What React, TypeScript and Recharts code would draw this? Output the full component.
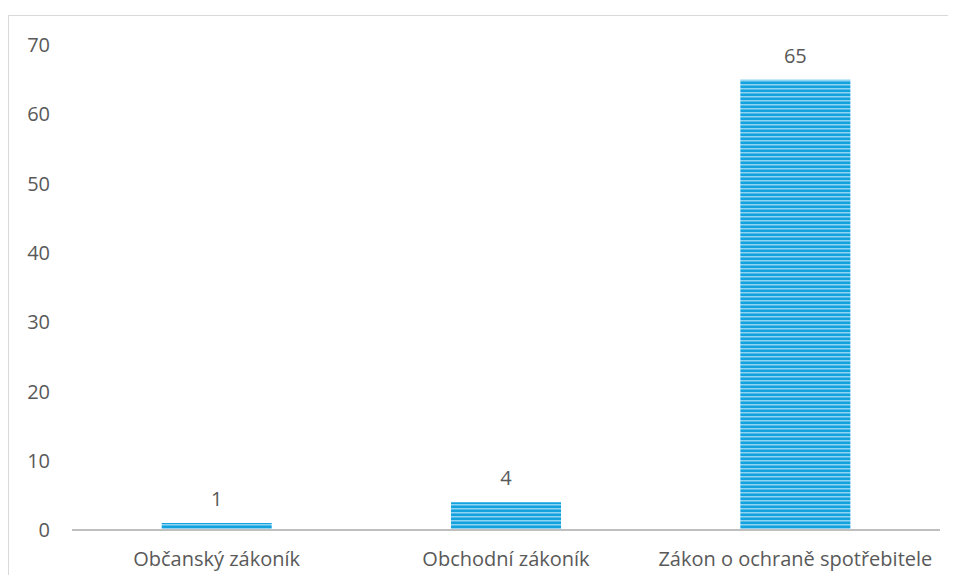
import React from 'react';
import { BarChart, Bar, XAxis, YAxis, LabelList } from 'recharts';

// Počet případů podle právního předpisu
const categories = ['Občanský zákoník', 'Obchodní zákoník', 'Zákon o ochraně spotřebitele'];
const counts = [1, 4, 65];
const yTicks = [0, 10, 20, 30, 40, 50, 60, 70];

const data = categories.map((name, i) => ({ name, value: counts[i] }));

const font = '"Open Sans", sans-serif';
const textColor = '#595959';

export default function App() {
  return (
    <div style={{ paddingTop: 7 }}>
      <div
        style={{
          width: 948,
          height: 560,
          boxSizing: 'border-box',
          borderTop: '1px solid #d9d9d9',
          borderLeft: '1px solid #d9d9d9',
          background: '#fff',
        }}
      >
        <BarChart
          width={947}
          height={559}
          data={data}
          margin={{ top: 29, right: 16, bottom: 0, left: 0 }}
          barCategoryGap="31%"
        >
          <defs>
            <pattern id="stripes" width="8" height="4" patternUnits="userSpaceOnUse">
              <rect width="8" height="4" fill="#13a2de" />
              <rect y="0" width="8" height="1.5" fill="#8fd4f3" />
            </pattern>
          </defs>
          <XAxis
            dataKey="name"
            height={45}
            tickSize={0}
            tickMargin={22}
            axisLine={{ stroke: '#bfbfbf', strokeWidth: 2 }}
            tickLine={false}
            tick={{ fill: textColor, fontSize: 20, fontFamily: font }}
          />
          <YAxis
            width={63}
            domain={[0, 70]}
            ticks={yTicks}
            tickSize={0}
            tickMargin={22}
            axisLine={false}
            tickLine={false}
            tick={{ fill: textColor, fontSize: 20, fontFamily: font }}
          />
          <Bar dataKey="value" fill="url(#stripes)" isAnimationActive={false}>
            <LabelList
              dataKey="value"
              position="top"
              offset={17}
              fill={textColor}
              fontSize={20}
              fontFamily={font}
            />
          </Bar>
        </BarChart>
      </div>
    </div>
  );
}
